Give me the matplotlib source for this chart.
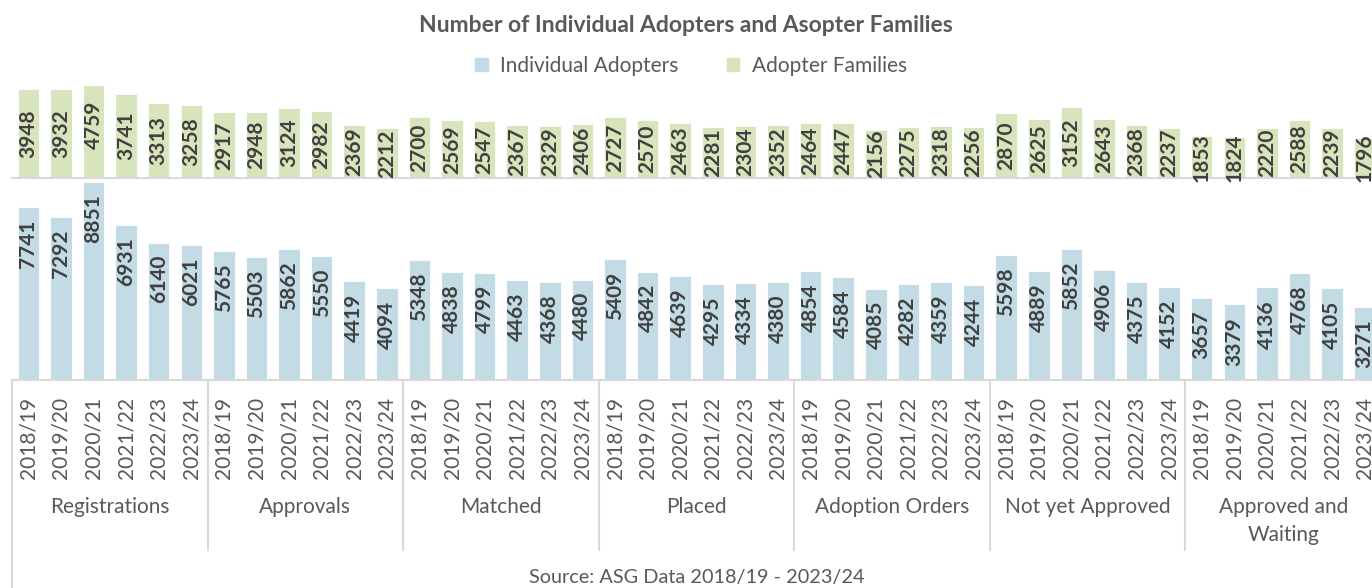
import numpy as np
import matplotlib
matplotlib.use("Agg")
import matplotlib.pyplot as plt
from matplotlib.patches import Patch

plt.rcParams['font.family'] = ['Lato', 'DejaVu Sans']

# data
groups = ['Registrations', 'Approvals', 'Matched', 'Placed', 'Adoption Orders',
          'Not yet Approved', 'Approved and\nWaiting']
years = ['2018/19', '2019/20', '2020/21', '2021/22', '2022/23', '2023/24']

individual = [7741, 7292, 8851, 6931, 6140, 6021,
              5765, 5503, 5862, 5550, 4419, 4094,
              5348, 4838, 4799, 4463, 4368, 4480,
              5409, 4842, 4639, 4295, 4334, 4380,
              4854, 4584, 4085, 4282, 4359, 4244,
              5598, 4889, 5852, 4906, 4375, 4152,
              3657, 3379, 4136, 4768, 4105, 3271]
families = [3948, 3932, 4759, 3741, 3313, 3258,
            2917, 2948, 3124, 2982, 2369, 2212,
            2700, 2569, 2547, 2367, 2329, 2406,
            2727, 2570, 2463, 2281, 2304, 2352,
            2464, 2447, 2156, 2275, 2318, 2256,
            2870, 2625, 3152, 2643, 2368, 2237,
            1853, 1824, 2220, 2588, 2239, 1796]

blue = '#c2dbe4'
green = '#d8e4bc'
grey_line = '#d9d9d9'
txt = '#595959'
lbl = '#404040'

W, H = 1372, 588
fig = plt.figure(figsize=(W / 100, H / 100), dpi=100)


def box(l, t, r, b):
    return [l / W, 1 - b / H, (r - l) / W, (b - t) / H]


ax_top = fig.add_axes(box(12, 86, 1381, 178.3))
ax_bot = fig.add_axes(box(12, 178.3, 1381, 380))

n = len(individual)
x = np.arange(n)

ax_top.bar(x, families, width=0.66, color=green, edgecolor='white', linewidth=0.6)
ax_bot.bar(x, individual, width=0.66, color=blue, edgecolor='white', linewidth=0.6)
ax_top.set_ylim(0, 4085)
ax_bot.set_ylim(0, 9010)

for ax in (ax_top, ax_bot):
    ax.set_xlim(-0.5, n - 0.5)
    for s in ['top', 'left', 'right']:
        ax.spines[s].set_visible(False)
    ax.spines['bottom'].set_color(grey_line)
    ax.spines['bottom'].set_linewidth(1.5)
    ax.set_yticks([])
    ax.patch.set_alpha(0)

ax_top.set_xticks([])

# value labels
for xi, v in zip(x, families):
    ax_top.text(xi, v / 2, str(v), rotation=90, ha='center', va='center',
                fontsize=15, fontweight='bold', color=lbl, clip_on=False)
for xi, v in zip(x, individual):
    ax_bot.annotate(str(v), xy=(xi, v), xytext=(0, -9), textcoords='offset points',
                    rotation=90, ha='center', va='top',
                    fontsize=15, fontweight='bold', color=lbl)

# year ticks
ax_bot.set_xticks(x)
ax_bot.set_xticklabels(years * len(groups), rotation=90, fontsize=15, color=txt)
ax_bot.tick_params(axis='x', length=0, pad=12)

# group labels and separators
trans = ax_bot.get_xaxis_transform()
for g, name in enumerate(groups):
    cx = g * 6 + 2.5
    ax_bot.annotate(name, xy=(cx, 0), xycoords=trans, xytext=(0, -84),
                    textcoords='offset points', ha='center', va='top',
                    fontsize=15, color=txt, linespacing=1.55)
for k in range(len(groups) + 1):
    xb = k * 6 - 0.5
    bottom = -1.1 if k == 0 else -0.843
    ax_bot.plot([xb, xb], [0, bottom], transform=trans, color=grey_line,
                lw=1.5, clip_on=False)

fig.text(686 / W, 1 - 26 / H, 'Number of Individual Adopters and Asopter Families',
         ha='center', va='center', fontsize=16.5, fontweight='bold', color=txt)

handles = [Patch(color=blue), Patch(color=green)]
fig.legend(handles, ['Individual Adopters', 'Adopter Families'], loc='center',
           bbox_to_anchor=(691 / W, 1 - 66 / H), ncol=2, frameon=False,
           fontsize=15, handlelength=0.6, handleheight=0.6, handletextpad=0.6,
           columnspacing=2.3, labelcolor=txt)

fig.text(697 / W, 1 - 578 / H, 'Source: ASG Data 2018/19 - 2023/24',
         ha='center', va='center', fontsize=14.3, color=txt)

fig.savefig('out.png', dpi=100)
